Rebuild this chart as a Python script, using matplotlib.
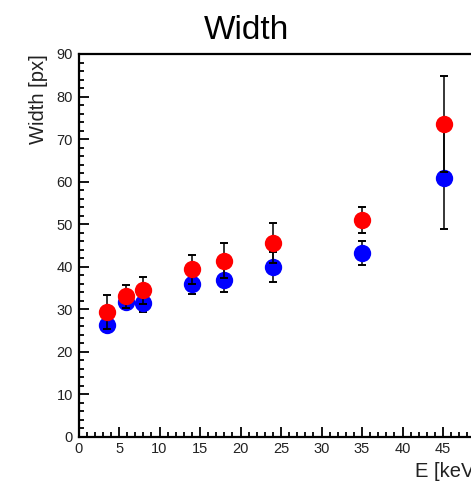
import numpy as np
import matplotlib
matplotlib.use("Agg")
import matplotlib.pyplot as plt
from matplotlib.ticker import MultipleLocator

plt.rcParams['font.family'] = ['Liberation Sans', 'DejaVu Sans']

# energies [keV]
energy = [3.55, 5.8, 8.0, 14.0, 17.9, 24.0, 35.0, 45.1]

# blue series
width_blue = [26.3, 31.8, 31.4, 35.9, 36.9, 40.0, 43.2, 60.8]
err_blue = [1.7, 1.8, 2.1, 2.4, 2.8, 3.5, 2.8, 12.0]

# red series
width_red = [29.3, 33.0, 34.4, 39.4, 41.4, 45.6, 51.0, 73.6]
err_red = [4.0, 2.6, 3.1, 3.4, 4.1, 4.7, 3.1, 11.3]

fig = plt.figure(figsize=(4.71, 4.86), dpi=100)
# axes runs past the right edge of the canvas, as in the reference
ax = fig.add_axes([0.1667, 0.1012, 0.86, 0.7877])

# blue graph: error bars then markers
ax.errorbar(energy, width_blue, yerr=err_blue, fmt='none', ecolor='black',
            elinewidth=1.1, capsize=3, capthick=1.4, zorder=2)
ax.plot(energy, width_blue, 'o', color='#0000ff', markersize=12.5,
        markeredgewidth=0, zorder=3)

# red graph drawn on top
ax.errorbar(energy, width_red, yerr=err_red, fmt='none', ecolor='black',
            elinewidth=1.1, capsize=3, capthick=1.4, zorder=4)
ax.plot(energy, width_red, 'o', color='#ff0000', markersize=12.5,
        markeredgewidth=0, zorder=5)

ax.set_xlim(0, 50)
ax.set_ylim(0, 90)

ax.xaxis.set_major_locator(MultipleLocator(5))
ax.xaxis.set_minor_locator(MultipleLocator(1))
ax.yaxis.set_major_locator(MultipleLocator(10))
ax.yaxis.set_minor_locator(MultipleLocator(2))

ax.tick_params(which='both', direction='in', width=1.3, colors='black',
               labelsize=10.5, labelcolor='#222222')
ax.tick_params(which='major', length=7)
ax.tick_params(which='minor', length=3.5)
ax.tick_params(axis='x', pad=4)
ax.tick_params(axis='y', pad=4)

for s in ax.spines.values():
    s.set_linewidth(1.6)

fig.text(0.524, 0.92, 'Width', fontsize=24, ha='center', va='baseline')
fig.text(38 / 471, 1 - 54 / 486, 'Width [px]', fontsize=14.5, rotation=90,
         ha='center', va='top', color='#222222')
fig.text(415 / 471, 1 - 477 / 486, 'E [keV]', fontsize=14.5, ha='left',
         va='baseline', color='#222222')

fig.savefig('out.png', dpi=100)
